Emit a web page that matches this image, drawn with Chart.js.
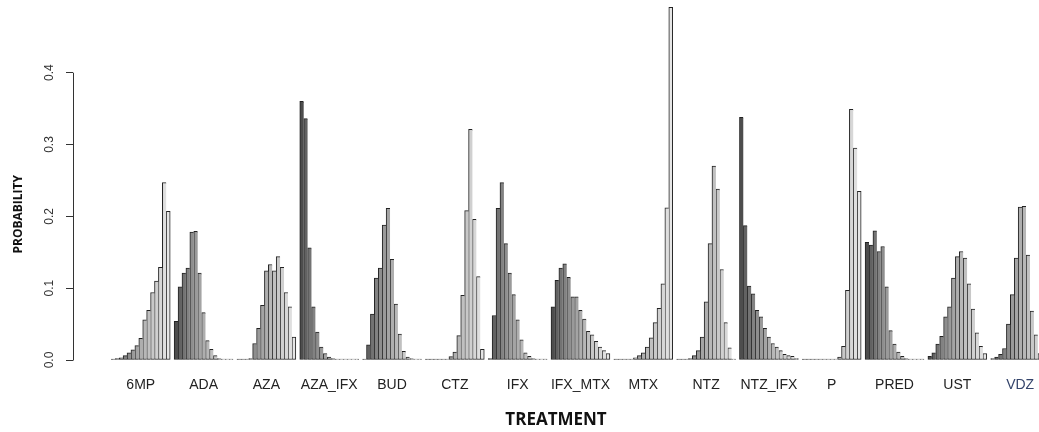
<!DOCTYPE html>
<html>
<head>
<meta charset="utf-8">
<script src="https://cdn.jsdelivr.net/npm/chart.js@4.4.1/dist/chart.umd.min.js"></script>
<style>
  html, body { margin: 0; padding: 0; background: #fff; overflow: hidden; }
  #wrap { width: 1039px; height: 432px; }
</style>
</head>
<body>
<div id="wrap"><canvas id="rank-chart" width="1039" height="432"></canvas></div>
<script>
const treatments = ['6MP', 'ADA', 'AZA', 'AZA_IFX', 'BUD', 'CTZ', 'IFX', 'IFX_MTX', 'MTX', 'NTZ', 'NTZ_IFX', 'P', 'PRED', 'UST', 'VDZ'];
const yTicks = [0, 0.1, 0.2, 0.3, 0.4];

// probability of each rank (1..15) per treatment
const p6MP = [0.001, 0.002, 0.003, 0.006, 0.010, 0.014, 0.020, 0.030, 0.056, 0.069, 0.094, 0.110, 0.129, 0.247, 0.207];
const pADA = [0.054, 0.102, 0.121, 0.128, 0.178, 0.179, 0.121, 0.066, 0.027, 0.015, 0.006, 0.002, 0.001, 0.0005, 0.0003];
const pAZA = [0.0002, 0.0004, 0.001, 0.002, 0.023, 0.044, 0.076, 0.124, 0.133, 0.124, 0.144, 0.129, 0.094, 0.074, 0.032];
const pAZA_IFX = [0.360, 0.336, 0.156, 0.074, 0.039, 0.018, 0.009, 0.004, 0.002, 0.001, 0.0005, 0.0003, 0.0002, 0.0001, 0.0001];
const pBUD = [0.001, 0.021, 0.064, 0.114, 0.128, 0.188, 0.211, 0.140, 0.078, 0.036, 0.012, 0.004, 0.002, 0.001, 0.0005];
const pCTZ = [0.0001, 0.0001, 0.0002, 0.0003, 0.0005, 0.0014, 0.0046, 0.011, 0.034, 0.090, 0.208, 0.321, 0.196, 0.116, 0.015];
const pIFX = [0.002, 0.062, 0.211, 0.247, 0.162, 0.121, 0.091, 0.056, 0.028, 0.010, 0.005, 0.002, 0.001, 0.0005, 0.0003];
const pIFX_MTX = [0.074, 0.111, 0.128, 0.134, 0.115, 0.088, 0.088, 0.069, 0.057, 0.040, 0.035, 0.026, 0.018, 0.013, 0.009];
const pMTX = [0.0002, 0.0003, 0.0004, 0.0006, 0.001, 0.003, 0.006, 0.010, 0.018, 0.031, 0.052, 0.072, 0.106, 0.212, 0.491];
const pNTZ = [0.0001, 0.0002, 0.0005, 0.002, 0.006, 0.013, 0.032, 0.081, 0.162, 0.270, 0.238, 0.126, 0.052, 0.017, 0.001];
const pNTZ_IFX = [0.338, 0.187, 0.103, 0.092, 0.069, 0.060, 0.044, 0.032, 0.023, 0.018, 0.013, 0.008, 0.006, 0.005, 0.002];
const pP = [0.0001, 0.0001, 0.0001, 0.0001, 0.0001, 0.0001, 0.0001, 0.0001, 0.001, 0.004, 0.019, 0.097, 0.349, 0.295, 0.235];
const pPRED = [0.164, 0.160, 0.180, 0.151, 0.158, 0.102, 0.041, 0.022, 0.011, 0.005, 0.002, 0.001, 0.0005, 0.0003, 0.0002];
const pUST = [0.005, 0.010, 0.022, 0.033, 0.060, 0.074, 0.114, 0.144, 0.151, 0.142, 0.106, 0.071, 0.038, 0.019, 0.009];
const pVDZ = [0.002, 0.004, 0.008, 0.016, 0.050, 0.091, 0.142, 0.213, 0.214, 0.146, 0.068, 0.035, 0.009, 0.003, 0.001];

const rankTable = [p6MP, pADA, pAZA, pAZA_IFX, pBUD, pCTZ, pIFX, pIFX_MTX, pMTX, pNTZ, pNTZ_IFX, pP, pPRED, pUST, pVDZ];
const nRanks = 15;
const groupSlots = nRanks + 1; // one empty slot before every group, like barplot(beside = TRUE)

// R gray.colors(15): 0.3 .. 0.9 with gamma 2.2
const grays = Array.from({ length: nRanks }, (_, i) => {
  const a = Math.pow(0.3, 2.2), b = Math.pow(0.9, 2.2);
  const v = Math.round(255 * Math.pow(a + (b - a) * i / (nRanks - 1), 1 / 2.2));
  return `rgb(${v},${v},${v})`;
});

const datasets = grays.map((color, r) => ({
  label: 'Rank ' + (r + 1),
  data: rankTable.map((probs, g) => ({ x: g * groupSlots + 1 + r, y: probs[r] })),
  backgroundColor: color,
  borderColor: '#222',
  borderWidth: { top: 1, left: 1, bottom: 1, right: r === nRanks - 1 ? 1 : 0 },
  borderSkipped: false,
  minBarLength: 1,
  barPercentage: 1,
  categoryPercentage: 1,
  stack: 'ranks',
}));

// y axis line only from 0 to 0.4, as base R draws it
const axisLine = {
  id: 'axisLine',
  afterDraw(chart) {
    const y = chart.scales.y;
    const ctx = chart.ctx;
    ctx.save();
    ctx.strokeStyle = '#333';
    ctx.lineWidth = 1;
    ctx.beginPath();
    ctx.moveTo(y.right + 0.5, y.getPixelForValue(yTicks[0]) + 0.5);
    ctx.lineTo(y.right + 0.5, y.getPixelForValue(yTicks[yTicks.length - 1]));
    ctx.stroke();
    ctx.restore();
  },
};

const ctx = document.getElementById('rank-chart').getContext('2d');
new Chart(ctx, {
  type: 'bar',
  data: { datasets },
  plugins: [axisLine],
  options: {
    responsive: false,
    animation: false,
    devicePixelRatio: 1,
    layout: { padding: 0 },
    plugins: { legend: { display: false }, tooltip: { enabled: false } },
    scales: {
      x: {
        type: 'linear',
        offset: false,
        min: -9.26,
        max: 236.8,
        grid: { display: false, drawTicks: false },
        border: { display: false },
        afterBuildTicks: (scale) => {
          scale.ticks = treatments.map((t, g) => ({ value: g * groupSlots + 8 }));
        },
        afterFit: (scale) => {
          scale.height = 72;
          scale.paddingLeft = 0;
          scale.paddingRight = 0;
        },
        ticks: {
          autoSkip: false,
          maxRotation: 0,
          padding: 17,
          font: { family: 'Liberation Sans', size: 14 },
          color: (c) => (treatments[c.index] === 'VDZ' ? '#34446b' : '#222'),
          callback: (value, index) => treatments[index],
        },
        title: {
          display: true,
          text: 'TREATMENT',
          color: '#111',
          font: { family: 'Open Sans', size: 17, weight: 'bold' },
          padding: { top: 0, bottom: 2 },
        },
      },
      y: {
        min: 0,
        max: 0.50122,
        stacked: false,
        grid: { drawOnChartArea: false, drawTicks: true, tickLength: 7, color: '#333' },
        border: { display: false },
        afterBuildTicks: (scale) => {
          scale.ticks = yTicks.map((v) => ({ value: v }));
        },
        afterFit: (scale) => {
          scale.width = 73;
          scale.paddingTop = 0;
          scale.paddingBottom = 0;
        },
        ticks: {
          minRotation: 90,
          maxRotation: 90,
          crossAlign: 'center',
          padding: 8,
          color: '#333',
          font: { family: 'Liberation Sans', size: 12 },
          callback: (value) => value.toFixed(1),
        },
        title: {
          display: true,
          text: 'PROBABILITY' + ' '.repeat(22),
          color: '#111',
          font: { family: 'Open Sans', size: 12, weight: 'bold' },
          padding: { top: 11, bottom: 0 },
        },
      },
    },
  },
});
</script>
</body>
</html>
